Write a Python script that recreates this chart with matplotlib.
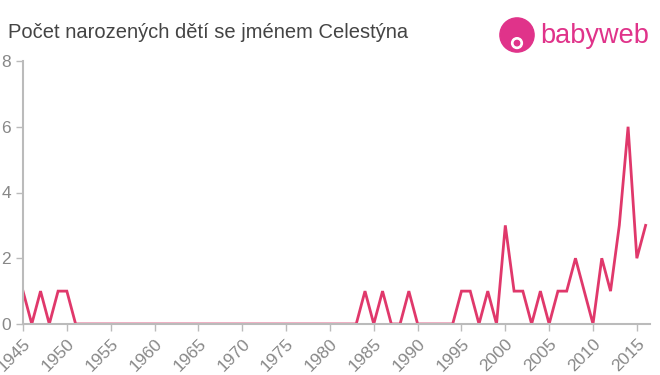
import numpy as np
import matplotlib.pyplot as plt
from matplotlib.patches import Circle

plt.rcParams['font.family'] = ['Liberation Sans', 'DejaVu Sans']

years = list(range(1945, 2017))
counts = [1, 0, 1, 0, 1, 1, 0] + [0] * 32 + \
    [1, 0, 1, 0, 0, 1, 0, 0, 0, 0, 0, 1, 1, 0, 1, 0,
     3, 1, 1, 0, 1, 0, 1, 1, 2, 1, 0, 2, 1, 3, 6, 2, 3]
xticks = list(range(1945, 2016, 5))
yticks = [0, 2, 4, 6, 8]
title = "Počet narozených dětí se jménem Celestýna"

line_col = "#e0386b"
grey = "#888888"

fig = plt.figure(figsize=(6.6, 3.75), dpi=100)
ax = fig.add_axes([23/660, 1-324/375, 627/660, 263/375])
ax.plot(years, counts, color=line_col, lw=2, solid_joinstyle="miter")
ax.set_xlim(1945, 2016.5)
ax.set_ylim(0, 8)
ax.set_xticks(xticks)
ax.set_yticks(yticks)
ax.tick_params(axis="x", labelrotation=45, labelsize=12.5, colors=grey,
               length=5, width=1)
ax.tick_params(axis="y", labelsize=12.5, colors=grey, length=5, width=1)
for lab in ax.get_xticklabels():
    lab.set_ha("right")
    lab.set_rotation_mode("anchor")
for s in ["top", "right"]:
    ax.spines[s].set_visible(False)
for s in ["left", "bottom"]:
    ax.spines[s].set_color("#bbbbbb")
    ax.spines[s].set_linewidth(1.5)
ax.tick_params(color="#bbbbbb")

fig.text(8/660, 1-33/375, title, fontsize=14.5, color="#444444", va="center")

# logo
fig.text(540/660, 1-36/375, "babyweb", fontsize=19.5, color="#e0338a",
         va="center", ha="left")
lax = fig.add_axes([499/660, 1-53/375, 36/660, 36/375])
lax.set_xlim(-1, 1)
lax.set_ylim(-1, 1)
lax.set_aspect("equal")
lax.axis("off")
lax.add_patch(Circle((0, 0), 0.95, color="#e0338a"))
lax.add_patch(Circle((0, -0.45), 0.3, color="white"))
lax.add_patch(Circle((0, -0.45), 0.15, color="#e0338a"))

fig.savefig("out.png", dpi=100)
